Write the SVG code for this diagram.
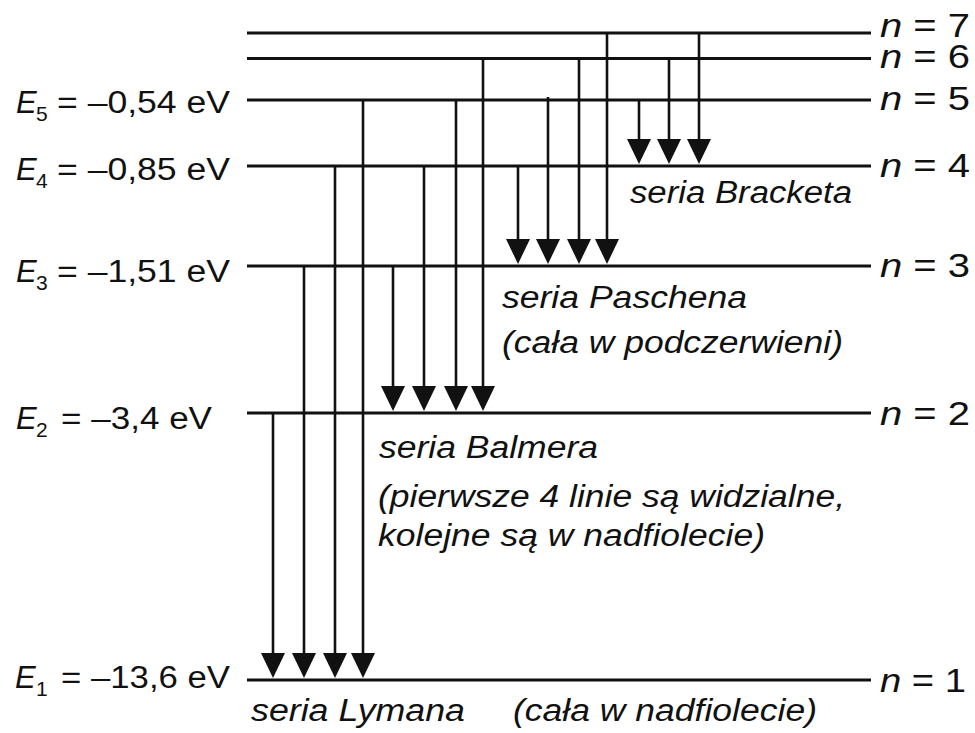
<svg xmlns="http://www.w3.org/2000/svg" width="975" height="733" viewBox="0 0 975 733">
<style>
  .lvl { stroke: #111; stroke-width: 3; fill: none; }
  .arr { stroke: #111; stroke-width: 2.6; fill: none; marker-end: url(#head); }
  text { font-family: "Liberation Sans", Arial, sans-serif; fill: #111; font-size: 31px; }
  .it { font-style: italic; }
  .sub { font-size: 21px; }
  .n { font-size: 33px; }
</style>
<defs>
  <marker id="head" markerUnits="userSpaceOnUse" viewBox="0 0 24 25" refX="12" refY="15" markerWidth="24" markerHeight="25" orient="0">
    <path d="M0,0 L24,0 L12,25 Z" fill="#111"/>
  </marker>
</defs>
<rect width="975" height="733" fill="#fff"/>

<g id="level-7"><line class="lvl" x1="247" y1="33" x2="871" y2="33"/><text class="n" x="880" y="37" textLength="90" lengthAdjust="spacingAndGlyphs"><tspan class="it">n</tspan> = 7</text></g>
<g id="level-6"><line class="lvl" x1="247" y1="58.5" x2="871" y2="58.5"/><text class="n" x="880" y="68" textLength="90" lengthAdjust="spacingAndGlyphs"><tspan class="it">n</tspan> = 6</text></g>
<g id="level-5"><line class="lvl" x1="247" y1="100" x2="871" y2="100"/><text class="n" x="880" y="110" textLength="90" lengthAdjust="spacingAndGlyphs"><tspan class="it">n</tspan> = 5</text>
  <text class="it" x="16" y="113">E</text><text class="sub" x="36" y="121">5</text><text x="57" y="113" textLength="173" lengthAdjust="spacingAndGlyphs">= –0,54 eV</text></g>
<g id="level-4"><line class="lvl" x1="247" y1="166" x2="871" y2="166"/><text class="n" x="880" y="177" textLength="90" lengthAdjust="spacingAndGlyphs"><tspan class="it">n</tspan> = 4</text>
  <text class="it" x="16" y="180">E</text><text class="sub" x="36" y="188">4</text><text x="57" y="180" textLength="173" lengthAdjust="spacingAndGlyphs">= –0,85 eV</text></g>
<g id="level-3"><line class="lvl" x1="247" y1="266" x2="871" y2="266"/><text class="n" x="880" y="277" textLength="90" lengthAdjust="spacingAndGlyphs"><tspan class="it">n</tspan> = 3</text>
  <text class="it" x="16" y="282">E</text><text class="sub" x="36" y="290">3</text><text x="57" y="282" textLength="173" lengthAdjust="spacingAndGlyphs">= –1,51 eV</text></g>
<g id="level-2"><line class="lvl" x1="247" y1="413" x2="871" y2="413"/><text class="n" x="880" y="425" textLength="90" lengthAdjust="spacingAndGlyphs"><tspan class="it">n</tspan> = 2</text>
  <text class="it" x="16" y="429">E</text><text class="sub" x="36" y="437">2</text><text x="61" y="429" textLength="151" lengthAdjust="spacingAndGlyphs">= –3,4 eV</text></g>
<g id="level-1"><line class="lvl" x1="247" y1="680" x2="871" y2="680"/><text class="n" x="880" y="692" textLength="86" lengthAdjust="spacingAndGlyphs"><tspan class="it">n</tspan> = 1</text>
  <text class="it" x="15" y="688">E</text><text class="sub" x="36" y="696">1</text><text x="61" y="688" textLength="169" lengthAdjust="spacingAndGlyphs">= –13,6 eV</text></g>

<g id="connectors">
  <!-- Lyman -->
  <line class="arr" x1="273" y1="412" x2="273" y2="668"/>
  <line class="arr" x1="304" y1="265" x2="304" y2="668"/>
  <line class="arr" x1="335" y1="165" x2="335" y2="668"/>
  <line class="arr" x1="363" y1="99" x2="363" y2="668"/>
  <!-- Balmer -->
  <line class="arr" x1="393" y1="265" x2="393" y2="401"/>
  <line class="arr" x1="424" y1="165" x2="424" y2="401"/>
  <line class="arr" x1="456" y1="99" x2="456" y2="401"/>
  <line class="arr" x1="483" y1="57" x2="483" y2="401"/>
  <!-- Paschen -->
  <line class="arr" x1="518" y1="165" x2="518" y2="254"/>
  <line class="arr" x1="548" y1="97" x2="548" y2="254"/>
  <line class="arr" x1="579" y1="57" x2="579" y2="254"/>
  <line class="arr" x1="607" y1="32" x2="607" y2="254"/>
  <!-- Brackett -->
  <line class="arr" x1="639" y1="99" x2="639" y2="154"/>
  <line class="arr" x1="669" y1="57" x2="669" y2="154"/>
  <line class="arr" x1="699" y1="32" x2="699" y2="154"/>
</g>

<g id="label-brackett"><text class="it" x="630" y="203" textLength="222" lengthAdjust="spacingAndGlyphs">seria Bracketa</text></g>
<g id="label-paschen">
  <text class="it" x="502" y="308" textLength="245" lengthAdjust="spacingAndGlyphs">seria Paschena</text>
  <text class="it" x="502" y="353" textLength="341" lengthAdjust="spacingAndGlyphs">(cała w podczerwieni)</text>
</g>
<g id="label-balmer">
  <text class="it" x="379" y="458" textLength="219" lengthAdjust="spacingAndGlyphs">seria Balmera</text>
  <text class="it" x="378" y="507" textLength="467" lengthAdjust="spacingAndGlyphs">(pierwsze 4 linie są widzialne,</text>
  <text class="it" x="378" y="546" textLength="387" lengthAdjust="spacingAndGlyphs">kolejne są w nadfiolecie)</text>
</g>
<g id="label-lyman">
  <text class="it" x="251" y="721" textLength="214" lengthAdjust="spacingAndGlyphs">seria Lymana</text>
  <text class="it" x="513" y="721" textLength="304" lengthAdjust="spacingAndGlyphs">(cała w nadfiolecie)</text>
</g>
</svg>
